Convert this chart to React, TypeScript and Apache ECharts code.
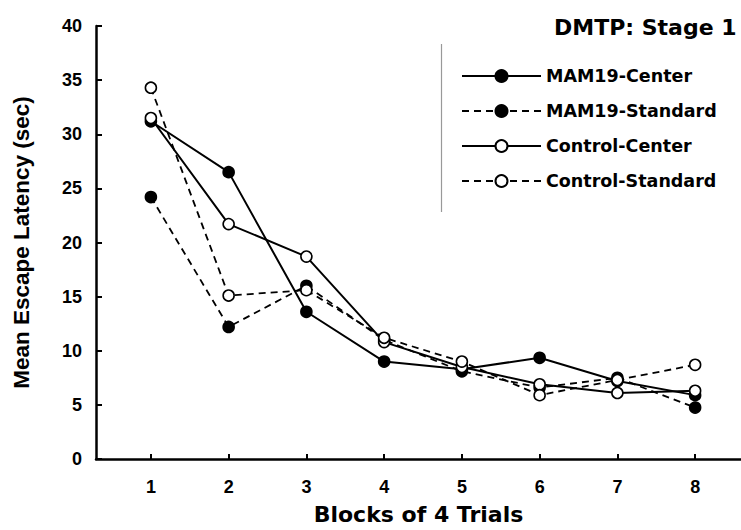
import React, { useEffect, useRef } from "react";
import * as echarts from "echarts";

const blocks = [1, 2, 3, 4, 5, 6, 7, 8];
const yTicks = [0, 5, 10, 15, 20, 25, 30, 35, 40];
const mam19Center = [31.2, 26.5, 13.6, 9.0, 8.3, 9.35, 7.2, 5.9];
const mam19Standard = [24.2, 12.2, 16.0, 11.0, 8.1, 6.6, 7.5, 4.75];
const controlCenter = [31.5, 21.7, 18.7, 10.8, 8.5, 6.9, 6.1, 6.3];
const controlStandard = [34.3, 15.1, 15.6, 11.2, 9.0, 5.9, 7.3, 8.7];
const seriesNames = ["MAM19-Center", "MAM19-Standard", "Control-Center", "Control-Standard"];

const FONT = "'Liberation Sans', Arial, sans-serif";
const WIDE = "'DejaVu Sans', 'Liberation Sans', sans-serif";

function pairs(vals: number[]) {
  return blocks.map((b, i) => [b, vals[i]]);
}

export default function App() {
  const ref = useRef<HTMLDivElement>(null);
  useEffect(() => {
    if (!ref.current) return;
    const chart = echarts.init(ref.current, null, { renderer: "svg" });
    const mk = (name: string, vals: number[], dashed: boolean, filled: boolean) => ({
      name,
      type: "line",
      data: pairs(vals),
      symbol: "circle",
      symbolSize: 11,
      lineStyle: { color: "#000", width: dashed ? 1.8 : 2, type: dashed ? [7, 5] : "solid" },
      itemStyle: { color: filled ? "#000" : "#fff", borderColor: "#000", borderWidth: 1.6 },
      emphasis: { disabled: true },
    });
    chart.setOption({
      animation: false,
      backgroundColor: "#fff",
      textStyle: { fontFamily: FONT },
      title: {
        text: "DMTP: Stage 1",
        left: 554,
        top: 16,
        padding: 0,
        textStyle: { fontFamily: WIDE, fontWeight: "bold", fontSize: 22, color: "#000" },
      },
      legend: {
        data: seriesNames,
        orient: "vertical",
        left: 461,
        top: 67,
        padding: 0,
        itemWidth: 79,
        itemHeight: 15,
        itemGap: 17,
        textStyle: { fontFamily: WIDE, fontWeight: "bold", fontSize: 17.5, color: "#000" },
      },
      grid: { left: 96, right: 0, top: 26, bottom: 69 },
      xAxis: {
        type: "value",
        min: 0.294,
        max: 8.59,
        name: "Blocks of 4 Trials",
        nameLocation: "middle",
        nameGap: 44,
        nameTextStyle: { fontFamily: WIDE, fontWeight: "bold", fontSize: 22, color: "#000" },
        axisLine: { show: true, lineStyle: { color: "#000", width: 2.5 } },
        axisTick: { show: true, inside: true, length: 5, lineStyle: { color: "#000", width: 2 }, customValues: blocks },
        axisLabel: { customValues: blocks, margin: 19, fontFamily: FONT, fontWeight: "bold", fontSize: 18, color: "#000" },
        splitLine: { show: false },
      },
      yAxis: {
        type: "value",
        min: 0,
        max: 40,
        interval: 5,
        name: "Mean Escape Latency (sec)",
        nameLocation: "middle",
        nameGap: 63,
        nameTextStyle: { fontFamily: FONT, fontWeight: "bold", fontSize: 22.5, color: "#000" },
        axisLine: { show: true, lineStyle: { color: "#000", width: 2.5 } },
        axisTick: { show: true, inside: true, length: 6, lineStyle: { color: "#000", width: 2 }, customValues: yTicks },
        axisLabel: { customValues: yTicks, margin: 14, fontFamily: FONT, fontWeight: "bold", fontSize: 18, color: "#000" },
        splitLine: { show: false },
      },
      graphic: [
        {
          type: "line",
          shape: { x1: 441.5, y1: 44, x2: 441.5, y2: 212 },
          style: { stroke: "#999", lineWidth: 1.2 },
          silent: true,
        },
      ],
      series: [
        mk(seriesNames[0], mam19Center, false, true),
        mk(seriesNames[1], mam19Standard, true, true),
        mk(seriesNames[2], controlCenter, false, false),
        mk(seriesNames[3], controlStandard, true, false),
      ],
    });
    return () => chart.dispose();
  }, []);
  return (
    <div
      ref={ref}
      style={{ position: "absolute", left: 0, top: 0, width: 741, height: 530, background: "#fff" }}
    />
  );
}
